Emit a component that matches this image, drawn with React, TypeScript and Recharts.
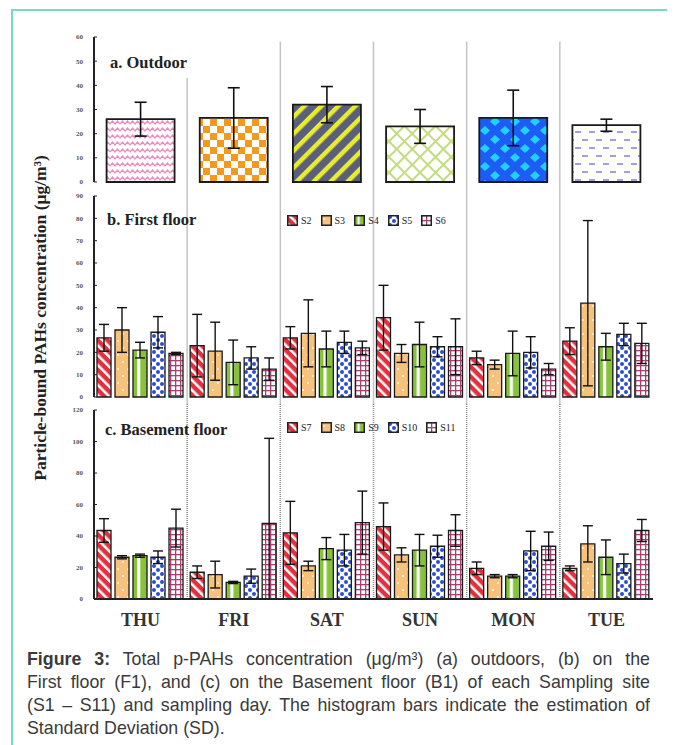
import React from "react";
import { BarChart, Bar, XAxis, YAxis, ErrorBar, Cell, ReferenceLine, Legend } from "recharts";

const SERIF = '"Liberation Serif", "Times New Roman", Times, serif';
const SANS = '"Liberation Sans", Arial, Helvetica, sans-serif';

const days = ["THU", "FRI", "SAT", "SUN", "MON", "TUE"];

// a. Outdoor
const outdoorMean = [26, 26.5, 32, 23, 26.5, 23.5];
const outdoorSd = [7, 12.5, 7.5, 7, 11.5, 2.5];

// b. First floor
const f1S2 = [26.5, 23, 26.5, 35.5, 17.5, 25];
const f1S2Sd = [6, 14, 5, 14.5, 3, 6];
const f1S3 = [30, 20.5, 28.5, 19.5, 14.5, 42];
const f1S3Sd = [10, 13, 15, 4, 2, 37];
const f1S4 = [21, 15.5, 21.5, 23.5, 19.5, 22.5];
const f1S4Sd = [3.5, 10, 8, 10, 10, 6];
const f1S5 = [29, 17.5, 24.5, 22.5, 20, 28];
const f1S5Sd = [7, 5, 5, 4.5, 7, 5];
const f1S6 = [19.5, 12.5, 22, 22.5, 12.5, 24];
const f1S6Sd = [0.5, 5, 3, 12.5, 2.5, 9];

// c. Basement floor
const b1S7 = [43.5, 17, 42, 46, 19.5, 19.5];
const b1S7Sd = [7.5, 4, 20, 15, 4, 1.5];
const b1S8 = [26.5, 15.5, 21, 28, 14.5, 35];
const b1S8Sd = [1, 8.5, 3, 4.5, 1, 11.5];
const b1S9 = [27.5, 10.5, 32, 31, 14.5, 26.5];
const b1S9Sd = [1, 0.7, 7, 10, 1, 11];
const b1S10 = [26.5, 14.5, 31, 33.5, 30.5, 22.5];
const b1S10Sd = [4, 4.5, 10, 7, 12.5, 6];
const b1S11 = [45, 48, 48.5, 43.5, 33.5, 43.5];
const b1S11Sd = [12, 54, 20, 10, 9, 7];

const ticksA = [0, 10, 20, 30, 40, 50, 60];
const ticksB = [0, 10, 20, 30, 40, 50, 60, 70, 80, 90];
const ticksC = [0, 20, 40, 60, 80, 100, 120];
// a dotted divider is drawn at the start of each of these days
const dividerDays = ["FRI", "SAT", "SUN", "MON", "TUE"];

const outdoorFills = ["url(#p-zig)", "url(#p-check)", "url(#p-stripe)", "url(#p-lattice)", "url(#p-diamond)", "url(#p-dash)"];
const siteFills = ["url(#p-red)", "url(#p-orange)", "url(#p-green)", "url(#p-blue)", "url(#p-grid)"];

type Site = { name: string; mean: number[]; sd: number[] };

const firstSites: Site[] = [
  { name: "S2", mean: f1S2, sd: f1S2Sd },
  { name: "S3", mean: f1S3, sd: f1S3Sd },
  { name: "S4", mean: f1S4, sd: f1S4Sd },
  { name: "S5", mean: f1S5, sd: f1S5Sd },
  { name: "S6", mean: f1S6, sd: f1S6Sd },
];
const baseSites: Site[] = [
  { name: "S7", mean: b1S7, sd: b1S7Sd },
  { name: "S8", mean: b1S8, sd: b1S8Sd },
  { name: "S9", mean: b1S9, sd: b1S9Sd },
  { name: "S10", mean: b1S10, sd: b1S10Sd },
  { name: "S11", mean: b1S11, sd: b1S11Sd },
];

function buildRows(sites: Site[]) {
  return days.map((day, i) => {
    const row: Record<string, any> = { day };
    sites.forEach((s) => {
      row[s.name] = s.mean[i];
      row[s.name + "_e"] = [Math.min(s.sd[i], s.mean[i]), s.sd[i]];
    });
    return row;
  });
}

const outdoorRows = days.map((day, i) => ({ day, mean: outdoorMean[i], sd: outdoorSd[i] }));

const AXIS = { stroke: "#222", strokeWidth: 2 };
const tickStyle = { fontSize: 7, fill: "#555", fontFamily: SERIF, fontWeight: 700 };

function Patterns() {
  return (
    <svg width={0} height={0} style={{ position: "absolute" }}>
      <defs>
        <pattern id="p-zig" patternUnits="userSpaceOnUse" width={10} height={7}>
          <rect width={10} height={7} fill="#fff" />
          <path d="M0 5 L2.5 2 L5 5 L7.5 2 L10 5" fill="none" stroke="#ec8cc0" strokeWidth={1.2} />
        </pattern>
        <pattern id="p-check" patternUnits="userSpaceOnUse" width={14} height={14}>
          <rect width={14} height={14} fill="#f39a1c" />
          <rect x={0} y={0} width={7} height={7} fill="#fff" />
          <rect x={7} y={7} width={7} height={7} fill="#fff" />
        </pattern>
        <pattern id="p-stripe" patternUnits="userSpaceOnUse" width={12} height={12} patternTransform="rotate(45)">
          <rect width={12} height={12} fill="#5b5f7e" />
          <rect x={0} y={0} width={4.5} height={12} fill="#e8ec2c" />
        </pattern>
        <pattern id="p-lattice" patternUnits="userSpaceOnUse" width={11} height={11} patternTransform="rotate(45)">
          <rect width={11} height={11} fill="#fff" />
          <rect x={0} y={0} width={2} height={11} fill="#c3dc7c" />
          <rect x={0} y={0} width={11} height={2} fill="#c3dc7c" />
        </pattern>
        <pattern id="p-diamond" patternUnits="userSpaceOnUse" width={20} height={18}>
          <rect width={20} height={18} fill="#1d5cf5" />
          <path d="M5 0 L10 4.5 L5 9 L0 4.5 Z" fill="#20d0ff" />
          <path d="M15 9 L20 13.5 L15 18 L10 13.5 Z" fill="#20d0ff" />
        </pattern>
        <pattern id="p-dash" patternUnits="userSpaceOnUse" width={14} height={16}>
          <rect width={14} height={16} fill="#fff" />
          <rect x={1} y={3} width={6} height={2} fill="#a99ce6" />
          <rect x={8} y={11} width={6} height={2} fill="#a99ce6" />
        </pattern>
        <pattern id="p-red" patternUnits="userSpaceOnUse" width={7} height={7} patternTransform="rotate(-45)">
          <rect width={7} height={7} fill="#e3303e" />
          <rect x={0} y={0} width={2.5} height={7} fill="#fff" />
        </pattern>
        <pattern id="p-orange" patternUnits="userSpaceOnUse" width={10} height={14}>
          <rect width={10} height={14} fill="#f7c27c" />
          <circle cx={3} cy={4} r={0.9} fill="#fff" />
          <circle cx={8} cy={11} r={0.9} fill="#fff" />
        </pattern>
        <pattern id="p-green" patternUnits="objectBoundingBox" patternContentUnits="objectBoundingBox" width={1} height={1}>
          <rect width={1} height={1} fill="#86c23a" />
          <rect x={0.3} y={0} width={0.22} height={1} fill="#fff" />
        </pattern>
        <pattern id="p-blue" patternUnits="userSpaceOnUse" width={8} height={8}>
          <rect width={8} height={8} fill="#fff" />
          <circle cx={2} cy={2} r={2} fill="#2c4fd0" />
          <circle cx={6} cy={6} r={2} fill="#2c4fd0" />
        </pattern>
        <pattern id="p-grid" patternUnits="userSpaceOnUse" width={5} height={5}>
          <rect width={5} height={5} fill="#fff" />
          <rect x={0} y={0} width={1.3} height={5} fill="#a6406e" />
          <rect x={0} y={0} width={5} height={1.3} fill="#a6406e" />
        </pattern>
      </defs>
    </svg>
  );
}

function makeLegend(order: string[]) {
  return function SiteLegend({ payload }: any) {
    const items = [...(payload || [])].sort((a: any, b: any) => order.indexOf(a.value) - order.indexOf(b.value));
    return (
      <div style={{ display: "flex", alignItems: "center" }}>
        {items.map((p: any) => (
          <div key={p.value} style={{ display: "flex", alignItems: "center", marginRight: 9 }}>
            <svg width={11} height={11} style={{ display: "block" }}>
              <rect x={0.75} y={0.75} width={9.5} height={9.5} fill={p.color} stroke="#222" strokeWidth={1.5} />
            </svg>
            <span style={{ marginLeft: 3, fontFamily: SERIF, fontSize: 10, color: "#222" }}>{p.value}</span>
          </div>
        ))}
      </div>
    );
  };
}

function dividerLines(lo: number, hi: (d: string) => number) {
  return dividerDays.map((d) => (
    <ReferenceLine key={d} position="start" ifOverflow="visible" stroke="#8a8a8a" strokeWidth={1.5} strokeDasharray="1 1"
      segment={[{ x: d, y: lo }, { x: d, y: hi(d) }]} />
  ));
}

function FloorPanel({
  sites, yMax, ticks, top, height, mTop, mBottom, showDays, legendTop, segLo, segHi,
}: {
  sites: Site[]; yMax: number; ticks: number[]; top: number; height: number; mTop: number; mBottom: number;
  showDays: boolean; legendTop: number; segLo: number; segHi: number;
}) {
  const rows = buildRows(sites);
  const Leg = makeLegend(sites.map((s) => s.name));
  return (
    <div style={{ position: "absolute", left: 0, top, width: 675, height }}>
      <BarChart width={675} height={height} data={rows} margin={{ top: mTop, right: 22, bottom: mBottom, left: 0 }}
        barCategoryGap={3} barGap={4}>
        <XAxis dataKey="day" height={showDays ? 40 : 0} tick={showDays ? { fontSize: 18, fill: "#333", fontFamily: SERIF, fontWeight: 700 } : false}
          tickLine={false} tickSize={0} tickMargin={14} axisLine={AXIS} interval={0} />
        <XAxis xAxisId="top" dataKey="day" orientation="top" height={0} tick={false} tickLine={false} axisLine={AXIS} />
        <YAxis domain={[0, yMax]} ticks={ticks} interval={0} width={94} tickSize={-3} tickMargin={14}
          axisLine={AXIS} tickLine={{ stroke: "#222" }} tick={tickStyle} />
        <YAxis yAxisId="r" orientation="right" type="number" domain={[0, 1]} width={0} tick={false} tickLine={false} axisLine={AXIS} />
        {dividerLines(segLo, () => segHi)}
        <Legend verticalAlign="middle" align="center" layout="horizontal" content={Leg}
          wrapperStyle={{ left: 287, top: legendTop, width: "auto", height: "auto" }} />
        {sites.map((s, i) => (
          <Bar key={s.name} dataKey={s.name} name={s.name} fill={siteFills[i]} stroke="#1a1a1a" strokeWidth={1.3} isAnimationActive={false}>
            <ErrorBar dataKey={s.name + "_e"} width={5} stroke="#111" strokeWidth={1.4} />
          </Bar>
        ))}
      </BarChart>
    </div>
  );
}

function OutdoorPanel() {
  return (
    <div style={{ position: "absolute", left: 0, top: 0, width: 675, height: 190 }}>
      <BarChart width={675} height={190} data={outdoorRows} margin={{ top: 37, right: 22, bottom: 8, left: 0 }} barCategoryGap="13.5%">
        <XAxis dataKey="day" height={0} tick={false} tickLine={false} axisLine={AXIS} />
        <XAxis xAxisId="top" dataKey="day" orientation="top" height={0} tick={false} tickLine={false} axisLine={AXIS} />
        <YAxis domain={[0, 60]} ticks={ticksA} interval={0} width={94} tickSize={-3} tickMargin={14}
          axisLine={AXIS} tickLine={{ stroke: "#222" }} tick={tickStyle} />
        <YAxis yAxisId="r" orientation="right" type="number" domain={[0, 1]} width={0} tick={false} tickLine={false} axisLine={AXIS} />
        {dividerLines(-6, (d) => (d === "FRI" ? 43 : 58))}
        <Bar dataKey="mean" stroke="#1a1a1a" strokeWidth={1.8} isAnimationActive={false}>
          {outdoorRows.map((r, i) => (
            <Cell key={r.day} fill={outdoorFills[i]} />
          ))}
          <ErrorBar dataKey="sd" width={6} stroke="#111" strokeWidth={1.6} />
        </Bar>
      </BarChart>
    </div>
  );
}

const titleStyle: React.CSSProperties = {
  position: "absolute", fontFamily: SERIF, fontWeight: 700, fontSize: 16.5, lineHeight: "18px", color: "#222", whiteSpace: "nowrap",
};

const lineJustify: React.CSSProperties = { textAlign: "justify", textAlignLast: "justify" };

export default function App() {
  return (
    <div style={{ position: "relative", width: 675, height: 745, marginLeft: -8, marginTop: -8, overflow: "hidden", background: "#fff" }}>
      <Patterns />
      <div style={{ position: "absolute", left: 11, top: 9, width: 662, height: 800, border: "2px solid #79d9c5", boxSizing: "border-box" }} />
      <OutdoorPanel />
      <FloorPanel sites={firstSites} yMax={90} ticks={ticksB} top={190} height={214} mTop={6} mBottom={7}
        showDays={false} legendTop={25} segLo={-6} segHi={100} />
      <FloorPanel sites={baseSites} yMax={120} ticks={ticksC} top={404} height={240} mTop={6} mBottom={5}
        showDays={true} legendTop={18} segLo={0} segHi={130} />
      <div style={{ ...titleStyle, left: 110, top: 54 }}>a. Outdoor</div>
      <div style={{ ...titleStyle, left: 107, top: 211 }}>b. First floor</div>
      <div style={{ ...titleStyle, left: 105, top: 421 }}>c. Basement floor</div>
      <div style={{
        position: "absolute", left: 40, top: 318, transform: "translate(-50%, -50%) rotate(-90deg)",
        fontFamily: SERIF, fontWeight: 700, fontSize: 17.5, color: "#222", whiteSpace: "nowrap",
      }}>
        Particle-bound PAHs concentration (μg/m³)
      </div>
      <div style={{ position: "absolute", left: 27, top: 648, width: 623, fontFamily: SANS, fontSize: 17.8, lineHeight: "23px", color: "#3a3a3a" }}>
        <div style={lineJustify}>
          <b>Figure 3:</b> Total p-PAHs concentration (μg/m³) (a) outdoors, (b) on the
        </div>
        <div style={lineJustify}>
          First floor (F1), and (c) on the Basement floor (B1) of each Sampling site
        </div>
        <div style={lineJustify}>
          (S1 – S11) and sampling day. The histogram bars indicate the estimation of
        </div>
        <div>Standard Deviation (SD).</div>
      </div>
    </div>
  );
}
